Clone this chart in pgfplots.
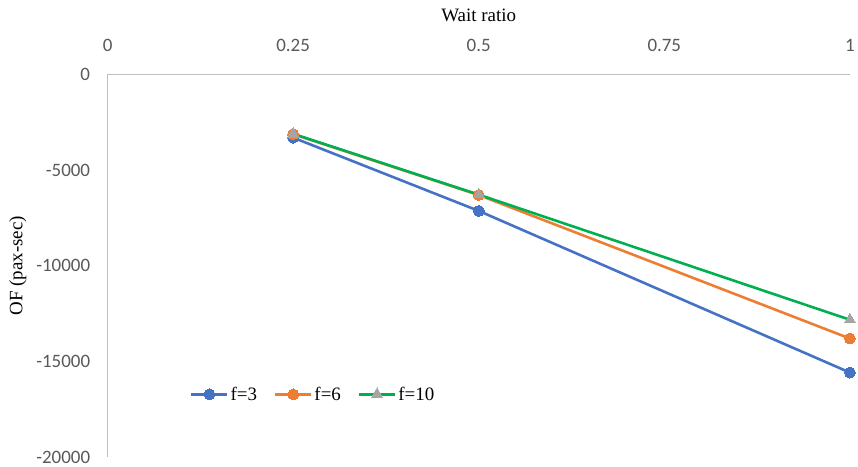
\documentclass[border=0pt]{standalone}
\usepackage{pgfplots}
\pgfplotsset{compat=1.18}
\usepackage{fontspec}
\setmainfont{Liberation Serif}
\newfontfamily\tickfont{Carlito}
\definecolor{cblue}{HTML}{4472C4}
\definecolor{corange}{HTML}{ED7D31}
\definecolor{cgreen}{HTML}{00B050}
\definecolor{cgray}{HTML}{A5A5A5}
\definecolor{tickgray}{HTML}{595959}
\definecolor{axgray}{HTML}{BFBFBF}
\begin{document}
\begin{tikzpicture}
\begin{axis}[
  scale only axis, width=745pt, height=384pt,
  xmin=0, xmax=1, ymin=-20000, ymax=0,
  axis x line*=top, axis y line*=left,
  axis line style={draw=axgray, line width=1.2pt},
  xtick={0,0.25,0.5,0.75,1},
  xticklabels={0,0.25,0.5,0.75,1},
  ytick={-20000,-15000,-10000,-5000,0},
  yticklabels={-20000,-15000,-10000,-5000,0},
  scaled y ticks=false,
  major tick length=0pt,
  tick label style={font=\tickfont\fontsize{19}{22}\selectfont, text=tickgray},
  xticklabel style={anchor=center, yshift=29pt},
  yticklabel style={anchor=east, xshift=-14pt},
  xlabel={Wait ratio},
  ylabel={OF (pax-sec)},
  label style={font=\fontsize{19}{22}\selectfont},
  xlabel style={at={(axis description cs:0.5,1)}, anchor=center, yshift=59pt},
  ylabel style={at={(axis description cs:0,0.5)}, anchor=center, rotate=0, yshift=90pt},
  clip=false,
  legend columns=3,
  legend style={at={(0.107,0.164)}, anchor=west, draw=none, fill=none,
    font=\fontsize{19}{22}\selectfont,
    /tikz/every even column/.append style={column sep=15pt}},
  legend image code/.code={\draw[mark repeat=2,mark phase=2,#1] plot coordinates {(0pt,0pt) (18pt,0pt) (36pt,0pt)};},
  every axis plot/.append style={line width=2.6pt},
]
\addplot[cblue, mark=*, mark size=5.5pt, mark options={fill=cblue, draw=cblue, line width=0pt}] coordinates {(0.25,-3300) (0.5,-7130) (1,-15580)};
\addlegendentry{f=3}
\addplot[corange, mark=*, mark size=5.5pt, mark options={fill=corange, draw=corange, line width=0pt}] coordinates {(0.25,-3120) (0.5,-6300) (1,-13800)};
\addlegendentry{f=6}
\addplot[cgreen, mark=triangle*, mark size=6.5pt, mark options={fill=cgray, draw=cgray, line width=0pt}] coordinates {(0.25,-3100) (0.5,-6280) (1,-12820)};
\addlegendentry{f=10}
\end{axis}
\path ([xshift=-6pt,yshift=6pt]current bounding box.north west);
\end{tikzpicture}
\end{document}
